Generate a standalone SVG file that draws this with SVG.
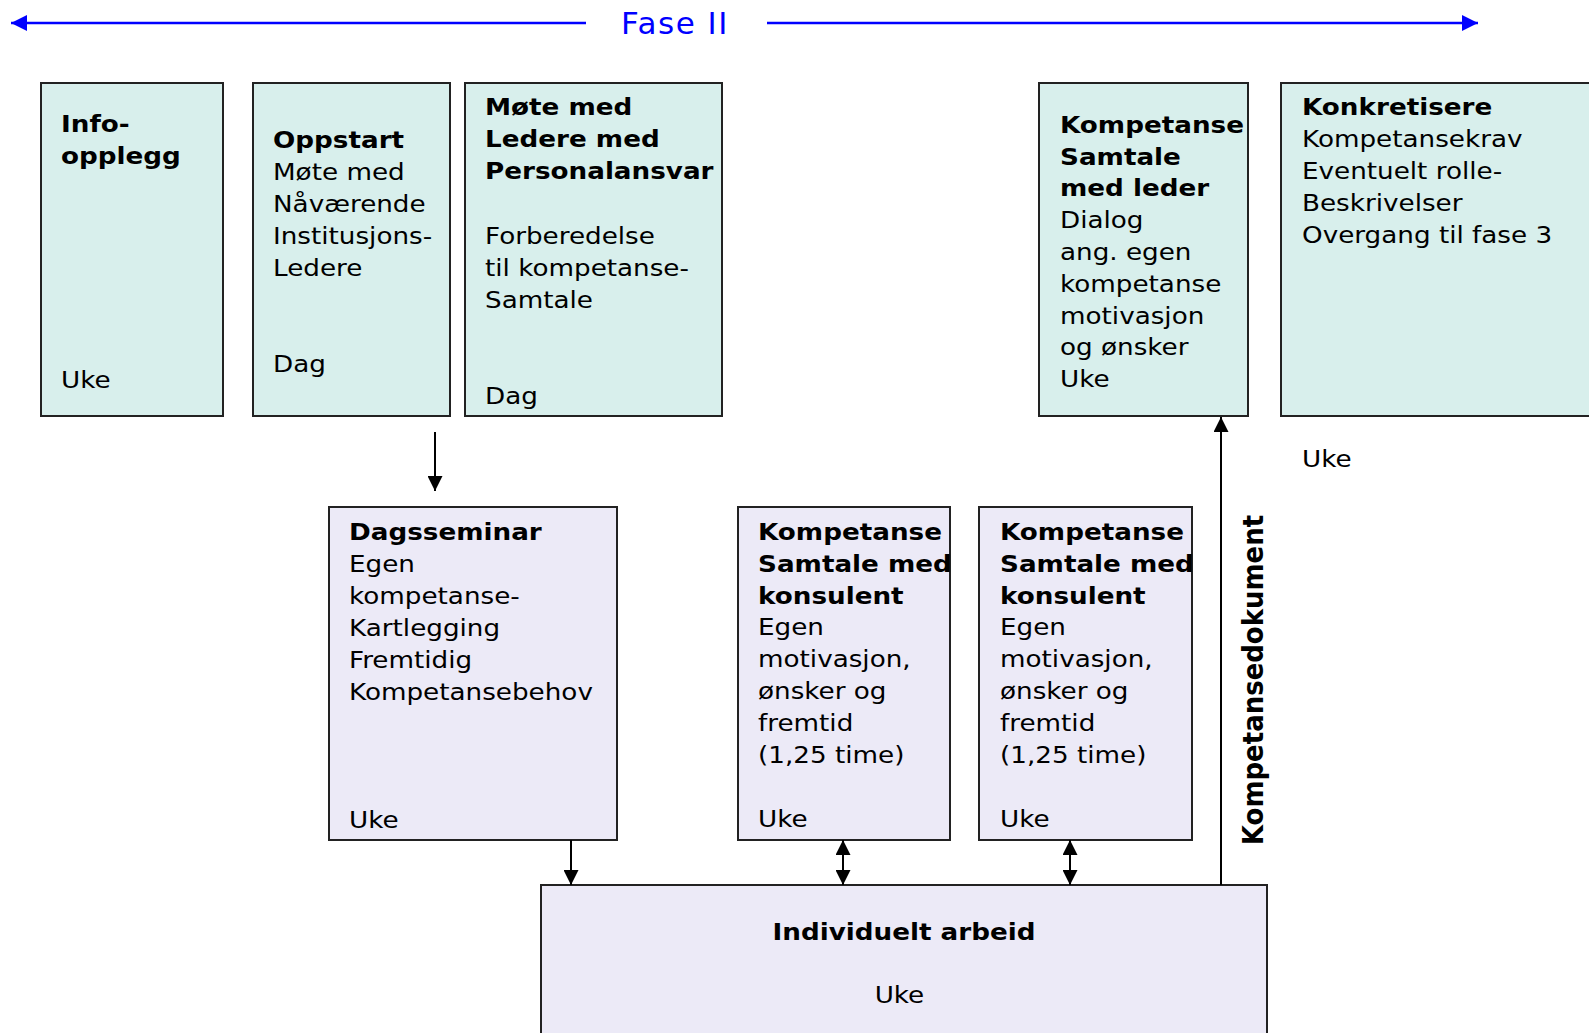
<svg xmlns="http://www.w3.org/2000/svg" width="1589" height="1033" viewBox="0 0 1589 1033">
<style>
  .top { fill: #D8EFEC; stroke: #222; stroke-width: 2; }
  .low { fill: #ECEAF7; stroke: #222; stroke-width: 2; }
  text { font-family: "DejaVu Sans", Verdana, sans-serif; font-size: 23px; fill: #000; }
  .b { font-weight: bold; }
  .conn { stroke: #000; stroke-width: 2; fill: none; }
  .phase { stroke: #0000FF; stroke-width: 2.6; fill: none; }
  .fase { font-size: 31px; fill: #0000FF; letter-spacing: 1.5px; }
  .vert { font-size: 26px; font-weight: bold; }
</style>
<defs>
  <marker id="ah" markerWidth="15" markerHeight="15" refX="15" refY="7.5" orient="auto-start-reverse" markerUnits="userSpaceOnUse">
    <path d="M0,0 L15,7.5 L0,15 Z" fill="#000"/>
  </marker>
  <marker id="bh" markerWidth="17" markerHeight="17" refX="16" refY="8" orient="auto-start-reverse" markerUnits="userSpaceOnUse">
    <path d="M0,0 L16,8 L0,16 Z" fill="#0000FF"/>
  </marker>
</defs>

<g id="phase">
  <line class="phase" x1="586" y1="23" x2="11" y2="23" marker-end="url(#bh)"/>
  <line class="phase" x1="767" y1="23" x2="1478" y2="23" marker-end="url(#bh)"/>
  <text class="fase" x="675" y="34" text-anchor="middle">Fase II</text>
</g>

<g id="info">
  <rect class="top" x="41" y="83" width="182" height="333"/>
  <g transform="translate(61,0) scale(1.14,1)">
    <text class="b" x="0" y="132.5">Info-</text>
    <text class="b" x="0" y="164.5">opplegg</text>
    <text x="0" y="388">Uke</text>
  </g>
</g>

<g id="oppstart">
  <rect class="top" x="253" y="83" width="197" height="333"/>
  <g transform="translate(273,0) scale(1.14,1)">
    <text class="b" x="0" y="148.5">Oppstart</text>
    <text x="0" y="180.5">Møte med</text>
    <text x="0" y="212.5">Nåværende</text>
    <text x="0" y="244.5">Institusjons-</text>
    <text x="0" y="276.5">Ledere</text>
    <text x="0" y="372">Dag</text>
  </g>
</g>

<g id="mote">
  <rect class="top" x="465" y="83" width="257" height="333"/>
  <g transform="translate(485,0) scale(1.14,1)">
    <text class="b" x="0" y="115.5">Møte med</text>
    <text class="b" x="0" y="147.5">Ledere med</text>
    <text class="b" x="0" y="179.5">Personalansvar</text>
    <text x="0" y="244">Forberedelse</text>
    <text x="0" y="276">til kompetanse-</text>
    <text x="0" y="308">Samtale</text>
    <text x="0" y="404">Dag</text>
  </g>
</g>

<g id="kompetanse-leder">
  <rect class="top" x="1039" y="83" width="209" height="333"/>
  <g transform="translate(1060,0) scale(1.14,1)">
    <text class="b" x="0" y="133">Kompetanse</text>
    <text class="b" x="0" y="165">Samtale</text>
    <text class="b" x="0" y="196.5">med leder</text>
    <text x="0" y="228.5">Dialog</text>
    <text x="0" y="260.5">ang. egen</text>
    <text x="0" y="292">kompetanse</text>
    <text x="0" y="324">motivasjon</text>
    <text x="0" y="355.5">og ønsker</text>
    <text x="0" y="387.5">Uke</text>
  </g>
</g>

<g id="konkretisere">
  <rect class="top" x="1281" y="83" width="330" height="333"/>
  <g transform="translate(1302,0) scale(1.14,1)">
    <text class="b" x="0" y="115">Konkretisere</text>
    <text x="0" y="147">Kompetansekrav</text>
    <text x="0" y="179">Eventuelt rolle-</text>
    <text x="0" y="211">Beskrivelser</text>
    <text x="0" y="243">Overgang til fase 3</text>
    <text x="0" y="467">Uke</text>
  </g>
</g>

<g id="dagsseminar">
  <rect class="low" x="329" y="507" width="288" height="333"/>
  <g transform="translate(349,0) scale(1.14,1)">
    <text class="b" x="0" y="540.5">Dagsseminar</text>
    <text x="0" y="572">Egen</text>
    <text x="0" y="604">kompetanse-</text>
    <text x="0" y="636">Kartlegging</text>
    <text x="0" y="668">Fremtidig</text>
    <text x="0" y="700">Kompetansebehov</text>
    <text x="0" y="828">Uke</text>
  </g>
</g>

<g id="konsulent-1">
  <rect class="low" x="738" y="507" width="212" height="333"/>
  <g transform="translate(758,0) scale(1.14,1)">
    <text class="b" x="0" y="540">Kompetanse</text>
    <text class="b" x="0" y="572">Samtale med</text>
    <text class="b" x="0" y="603.7">konsulent</text>
    <text x="0" y="635.5">Egen</text>
    <text x="0" y="667.5">motivasjon,</text>
    <text x="0" y="699.3">ønsker og</text>
    <text x="0" y="731.2">fremtid</text>
    <text x="0" y="763">(1,25 time)</text>
    <text x="0" y="827">Uke</text>
  </g>
</g>

<g id="konsulent-2">
  <rect class="low" x="979" y="507" width="213" height="333"/>
  <g transform="translate(1000,0) scale(1.14,1)">
    <text class="b" x="0" y="540">Kompetanse</text>
    <text class="b" x="0" y="572">Samtale med</text>
    <text class="b" x="0" y="603.7">konsulent</text>
    <text x="0" y="635.5">Egen</text>
    <text x="0" y="667.5">motivasjon,</text>
    <text x="0" y="699.3">ønsker og</text>
    <text x="0" y="731.2">fremtid</text>
    <text x="0" y="763">(1,25 time)</text>
    <text x="0" y="827">Uke</text>
  </g>
</g>

<g id="individuelt">
  <rect class="low" x="541" y="885" width="726" height="200"/>
  <g transform="translate(904,0) scale(1.14,1)">
    <text class="b" x="0" y="940" text-anchor="middle">Individuelt arbeid</text>
    <text x="-4" y="1003" text-anchor="middle">Uke</text>
  </g>
</g>

<g id="connectors">
  <line class="conn" x1="435" y1="432" x2="435" y2="491" marker-end="url(#ah)"/>
  <line class="conn" x1="571" y1="840" x2="571" y2="885" marker-end="url(#ah)"/>
  <line class="conn" x1="843" y1="840" x2="843" y2="885" marker-start="url(#ah)" marker-end="url(#ah)"/>
  <line class="conn" x1="1070" y1="840" x2="1070" y2="885" marker-start="url(#ah)" marker-end="url(#ah)"/>
  <line class="conn" x1="1221" y1="885" x2="1221" y2="417" marker-end="url(#ah)"/>
  <text class="vert" transform="translate(1263,680) rotate(-90) scale(1,1.08)" text-anchor="middle">Kompetansedokument</text>
</g>
</svg>
